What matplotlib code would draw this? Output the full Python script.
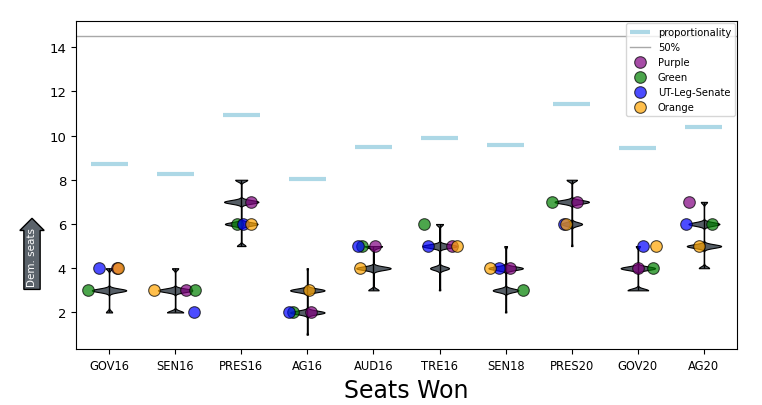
import numpy as np
import matplotlib
matplotlib.use("Agg")
import matplotlib.pyplot as plt

# ---------------- data ----------------
districts = ["GOV16", "SEN16", "PRES16", "AG16", "AUD16",
             "TRE16", "SEN18", "PRES20", "GOV20", "AG20"]

# ensemble distribution of Dem. seats (seat value -> relative frequency)
ens_seats = [
    [2, 3, 4],
    [2, 3, 4],
    [5, 6, 7, 8],
    [1, 2, 3, 4],
    [3, 4, 5],
    [3, 4, 5, 6],
    [2, 3, 4, 5],
    [5, 6, 7, 8],
    [3, 4, 5],
    [4, 5, 6, 7],
]
ens_counts = [
    [18, 100, 18],
    [47, 100, 18],
    [25, 95, 100, 35],
    [4, 100, 100, 4],
    [30, 100, 50],
    [4, 55, 100, 20],
    [4, 75, 100, 8],
    [4, 60, 100, 30],
    [60, 100, 12],
    [30, 100, 90, 18],
]

proportionality = [8.72, 8.26, 10.92, 8.04, 9.48, 9.88, 9.57, 11.41, 9.43, 10.38]
half_line = 14.5

plan_names = ["Purple", "Green", "UT-Leg-Senate", "Orange"]
plan_seats = {
    "Purple":        [4, 3, 7, 2, 5, 5, 4, 7, 4, 7],
    "Green":         [3, 3, 6, 2, 5, 6, 3, 7, 4, 6],
    "UT-Leg-Senate": [4, 2, 6, 2, 5, 5, 4, 6, 5, 6],
    "Orange":        [4, 3, 6, 3, 4, 5, 4, 6, 5, 5],
}
# horizontal jitter of each plan's marker
plan_jitter = {
    "Purple":        [0.12, 0.17, 0.15, 0.05, 0.02, 0.19, 0.06, 0.08, 0.00, -0.23],
    "Green":         [-0.32, 0.30, -0.06, -0.22, -0.17, -0.23, 0.26, -0.30, 0.23, 0.12],
    "UT-Leg-Senate": [-0.15, 0.29, 0.02, -0.27, -0.24, -0.18, -0.10, -0.12, 0.08, -0.27],
    "Orange":        [0.14, -0.32, 0.15, 0.03, -0.20, 0.26, -0.24, -0.08, 0.27, -0.08],
}
plan_colors = {"Purple": "purple", "Green": "green",
               "UT-Leg-Senate": "blue", "Orange": "orange"}

# ---------------- figure ----------------
fig = plt.figure(figsize=(7.62, 4.06), dpi=100)
ax = fig.add_axes([0.0997, 0.1367, 0.8675, 0.809])

positions = np.arange(len(districts))
datasets = [np.repeat(v, c) for v, c in zip(ens_seats, ens_counts)]

bw = 0.08
def bw_fn(kde):
    return bw / np.std(kde.dataset, ddof=1)

parts = ax.violinplot(datasets, positions=positions, widths=0.52,
                      showextrema=True, points=500, bw_method=bw_fn)
for body in parts["bodies"]:
    body.set_facecolor("#565e66")
    body.set_edgecolor("black")
    body.set_linewidth(0.8)
    body.set_alpha(1)
parts["cbars"].set_color("black")
parts["cbars"].set_linewidth(1.0)
parts["cmins"].set_visible(False)
parts["cmaxes"].set_visible(False)

# proportionality marks
ax.hlines(proportionality, positions - 0.28, positions + 0.28,
          color="lightblue", linewidth=3, label="proportionality", zorder=3)
ax.axhline(half_line, color="#a8a8a8", linewidth=1, label="50%", zorder=1)

for name in plan_names:
    ax.scatter(positions + np.array(plan_jitter[name]), plan_seats[name],
               s=70, color=plan_colors[name], alpha=0.7,
               edgecolor="black", linewidth=0.8, label=name, zorder=4)

ax.set_xticks(positions)
ax.set_xticklabels(districts, fontsize=8.3)
ax.tick_params(axis="y", labelsize=9.5)
ax.set_xlim(-0.5, 9.5)
lo, hi = 1.0, half_line
pad = 0.05 * (hi - lo)
ax.set_ylim(lo - pad, hi + pad)

ax.set_xlabel("Seats Won", fontsize=17)

leg = ax.legend(loc="upper right", fontsize=7.2, borderaxespad=0.2)

fig.text(0.042, 0.365, "Dem. seats", rotation=90, fontsize=7.5,
         color="white", ha="center", va="center",
         bbox=dict(boxstyle="rarrow,pad=0.3", fc="#5b636b", ec="black", lw=1))

fig.savefig("out.png", dpi=100)
